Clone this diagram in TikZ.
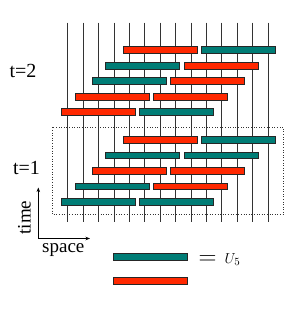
\documentclass[tikz,border=0pt]{standalone}
\usepackage{fontspec}
\setmainfont{Liberation Serif}
\usetikzlibrary{arrows.meta}
\definecolor{barred}{RGB}{255,40,0}
\definecolor{barteal}{RGB}{0,125,118}
\tikzset{
  redbar/.style={fill=barred,draw=black!85,line width=0.8pt},
  tealbar/.style={fill=barteal,draw=black!85,line width=0.8pt},
  gridline/.style={draw=black!80,line width=0.8pt},
  lbl/.style={inner sep=0pt,font=\fontsize{20}{20}\selectfont},
  axis/.style={line width=0.7pt,-{Stealth[length=4.5pt,width=3.5pt]}},
}
\begin{document}
\begin{tikzpicture}[x=1pt,y=-1pt]
\useasboundingbox (0,0) rectangle (291,310);
% vertical lines
\foreach \i in {0,...,13}{
  \draw[gridline] (67.7+15.4*\i,22.7) -- (67.7+15.4*\i,221.7);
}
% dotted box
\draw[dotted,line width=0.6pt,black!80] (52.3,127.3) rectangle (283.3,214.3);
% bars, rows top to bottom
\foreach \y/\a/\b/\sa/\sb in {
  50/123/201.5/redbar/tealbar,
  65.7/105.2/184.2/tealbar/redbar,
  81/92/170/tealbar/redbar,
  96.7/75.3/153.3/redbar/redbar,
  111.8/61/139.5/redbar/tealbar,
  140/123/201.5/redbar/tealbar,
  155.3/105.2/184.2/tealbar/tealbar,
  171/92/170/redbar/redbar,
  186.3/75.3/153.3/tealbar/redbar,
  201.7/61/139.5/tealbar/tealbar}{
  \draw[\sa] (\a,\y-3.3) rectangle (\a+74,\y+3.3);
  \draw[\sb] (\b,\y-3.3) rectangle (\b+74,\y+3.3);
}
% labels
\node[lbl] (t2) at (23,71) {t=2};
\node[lbl] (t1) at (26.5,168) {t=1};
% axes
\coordinate (o) at (38.3,238.5);
\coordinate (ty) at (38.3,187.5);
\coordinate (sx) at (90,238.5);
\draw[axis] (o) -- (ty);
\draw[axis] (o) -- (sx);
\node[inner sep=0pt,rotate=90,font=\fontsize{19}{19}\selectfont] (time) at (24.5,217.5) {time};
\node[inner sep=0pt,font=\fontsize{19}{19}\selectfont] (space) at (63.3,250.5) {space};
% legend
\draw[tealbar] (113,253.3) rectangle (187.3,260);
\draw[redbar] (113,277.7) rectangle (187.3,284.7);
\node[inner sep=0pt,anchor=base,font=\fontsize{27}{27}\selectfont] (eq) at (207.5,264.5) {$=$};
\node[inner sep=0pt,anchor=base west,font=\fontsize{15}{15}\selectfont] (u5) at (224.5,263.3) {$U_5$};
\end{tikzpicture}
\end{document}
